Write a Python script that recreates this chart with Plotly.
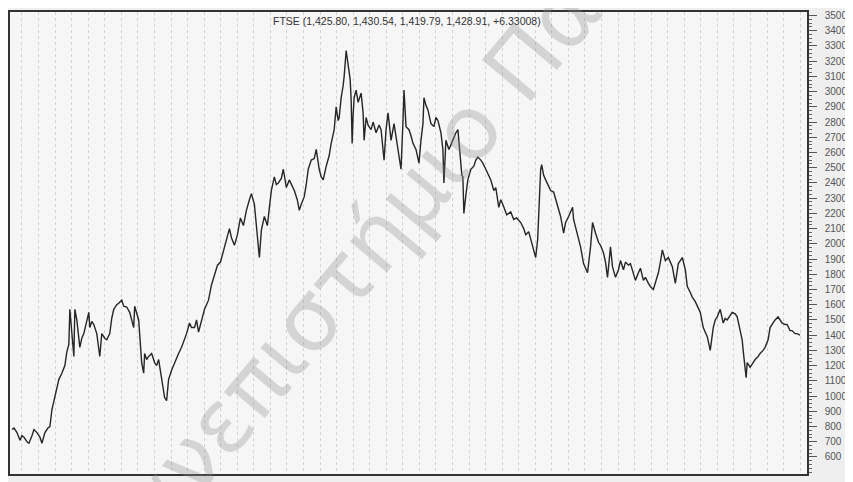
import plotly.graph_objects as go

# time index (sample position along the series, trading-period units)
t = [10,12,15,18,20,22,25,27,30,32,35,38,40,43,46,48,50,52,55,57,60,63,65,67,68,70,72,73,75,78,
     80,82,85,87,88,90,92,95,98,100,103,105,108,110,112,115,117,120,122,125,128,130,132,133,135,137,140,142,143,145,
     147,150,153,155,157,160,163,165,167,170,173,175,177,180,183,185,188,190,193,195,197,200,203,205,207,
     210,213,216,219,222,225,228,230,233,236,239,242,245,248,250,253,255,257,258,260,263,266,268,270,
     273,275,277,280,282,285,288,290,293,296,298,300,303,305,307,310,313,315,318,320,322,325,328,330,333,
     335,337,338,340,342,343,345,346,347,349,350,351,352,353,355,357,360,362,363,365,367,370,372,375,378,
     380,383,385,387,390,393,395,397,400,402,403,405,408,410,412,415,418,420,422,423,425,427,430,433,435,
     437,440,442,443,445,448,450,453,455,457,459,461,462,463,465,467,470,473,475,477,480,482,485,488,490,
     493,495,498,500,502,506,510,513,516,520,523,525,528,530,533,535,537,538,540,541,543,545,548,550,553,
     557,560,563,565,568,572,573,577,580,583,587,590,592,595,598,600,603,605,607,610,612,615,618,620,623,
     625,628,630,632,635,638,640,643,645,648,650,653,655,658,660,662,665,668,670,672,675,678,680,682,685,
     687,690,692,695,697,700,703,705,707,710,713,715,717,720,723,725,727,730,732,735,737,740,742,743,745,
     746,747,750,753,755,758,760,763,765,768,770,773,775,778,780,782,785,787,790,792,795,797,800]

ftse = [780,790,760,710,740,730,700,690,740,780,760,730,690,760,790,800,910,970,1070,1110,1150,1200,1290,1340,1570,1430,1260,1570,1500,1320,
        1380,1410,1500,1550,1450,1490,1470,1410,1260,1410,1380,1370,1410,1510,1570,1600,1610,1630,1590,1585,1550,1500,1450,1590,1550,1500,1220,1150,1280,1240,
        1260,1280,1220,1200,1240,1120,990,970,1110,1170,1220,1250,1280,1320,1370,1410,1480,1450,1450,1500,1420,1500,1570,1600,1630,
        1730,1800,1860,1880,1960,2030,2100,2040,1990,2060,2170,2120,2220,2290,2330,2260,2120,1960,1910,2090,2180,2120,2260,2350,
        2440,2390,2400,2430,2490,2370,2420,2390,2350,2290,2220,2260,2310,2390,2490,2550,2560,2620,2490,2440,2420,2510,2580,2660,2750,
        2900,2810,2830,2960,3040,3100,3270,3220,3190,3080,2950,2660,2850,2960,3010,2930,2990,2860,2680,2830,2780,2750,2800,2730,2780,
        2750,2550,2750,2860,2680,2790,2710,2620,2490,2810,3010,2770,2750,2710,2660,2620,2530,2680,2790,2960,2910,2880,2790,2770,2830,
        2810,2730,2620,2400,2680,2620,2650,2700,2730,2750,2570,2450,2440,2200,2320,2420,2490,2510,2550,2570,2550,2530,2490,2450,2420,
        2350,2370,2240,2290,2260,2190,2210,2160,2170,2140,2100,2060,2080,2030,1970,1910,2030,2190,2490,2520,2450,2420,2380,2350,2340,
        2240,2180,2070,2140,2180,2240,2160,2050,1980,1870,1810,1980,2140,2070,2010,1990,1940,1880,1780,1980,1850,1780,1830,1890,1830,
        1880,1860,1870,1830,1760,1810,1840,1760,1780,1740,1720,1700,1750,1810,1880,1960,1890,1910,1880,1850,1740,1870,1890,1910,1830,
        1720,1680,1650,1620,1590,1550,1450,1420,1390,1300,1450,1500,1520,1570,1480,1510,1500,1530,1550,1540,1520,1430,1370,1300,1200,
        1120,1220,1190,1220,1240,1260,1280,1300,1320,1370,1450,1480,1500,1520,1500,1480,1470,1470,1430,1430,1410,1410,1400]

y_ticks = list(range(600, 3600, 100))
title_text = "FTSE (1,425.80, 1,430.54, 1,419.79, 1,428.91, +6.33008)"
watermark = "Πανεπιστήμιο Πατρών"

fig = go.Figure()
fig.add_trace(go.Scatter(x=t, y=ftse, mode="lines",
                         line=dict(color="#262626", width=1.4), hoverinfo="skip"))

fig.update_layout(
    width=845, height=474,
    margin=dict(l=0, r=46, t=4, b=8),
    paper_bgcolor="#efefef", plot_bgcolor="#f6f6f6",
    showlegend=False,
    font=dict(family="Liberation Sans, Arial, sans-serif", size=10, color="#444444"),
    xaxis=dict(range=[8, 807], showticklabels=False, ticks="",
               showgrid=True, gridcolor="#d2d2d2", griddash="dot", gridwidth=1,
               tick0=20, dtick=16.6, zeroline=False,
               showline=True, linecolor="#333333", linewidth=1.5, mirror=True),
    yaxis=dict(range=[488, 3523], side="right", tickmode="array",
               tickvals=y_ticks, ticktext=[str(v) for v in y_ticks],
               ticks="outside", ticklen=8, tickcolor="#555555", tickwidth=1,
               ticklabelstandoff=6,
               minor=dict(ticks="outside", ticklen=3, dtick=25, tickcolor="#666666", showgrid=False),
               showgrid=False, zeroline=False,
               showline=True, linecolor="#333333", linewidth=1.5, mirror=True,
               tickfont=dict(size=10, color="#555555")),
    annotations=[
        dict(text=title_text, xref="paper", yref="paper", x=0.498, y=1.0,
             xanchor="center", yanchor="top", showarrow=False, yshift=-1,
             font=dict(size=10.5, color="#333333")),
        dict(text=watermark, xref="paper", yref="paper", x=0.505, y=0.605,
             xanchor="center", yanchor="middle", showarrow=False, textangle=-50,
             font=dict(family="DejaVu Sans, sans-serif", size=88, color="rgba(140,140,140,0.32)")),
    ],
)

fig.write_html("out.html")
